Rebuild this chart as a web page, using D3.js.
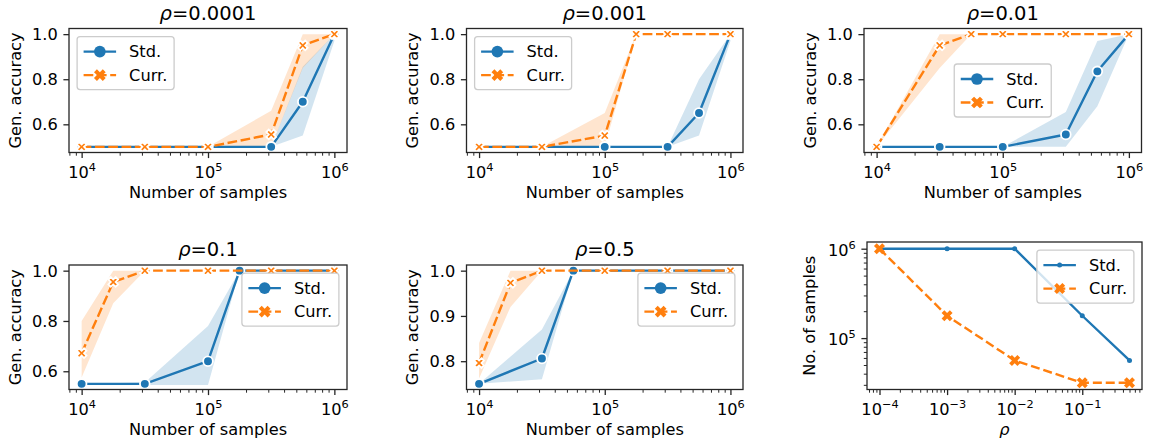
<!DOCTYPE html>
<html>
<head>
<meta charset="utf-8">
<script src="https://cdn.jsdelivr.net/npm/d3@7"></script>
<style>
  body { margin: 0; background: #fff; }
</style>
</head>
<body>
<script>
// ---- data ----
var rhoTitles = ["0.0001", "0.001", "0.01", "0.1", "0.5"];

var sampleStd = [
  [10000, 31623, 100000, 316228, 562341, 1000000],
  [10000, 31623, 100000, 316228, 562341, 1000000],
  [10000, 31623, 100000, 316228, 562341, 1000000],
  [10000, 31623, 100000, 177828, 316228, 1000000],
  [10000, 31623, 56234, 100000, 316228, 1000000]
];
var accStd = [
  [0.5, 0.5, 0.5, 0.5, 0.70, 1.0],
  [0.5, 0.5, 0.5, 0.5, 0.65, 1.0],
  [0.5, 0.5, 0.5, 0.555, 0.835, 1.0],
  [0.55, 0.55, 0.64, 1.0, 1.0, 1.0],
  [0.75, 0.806, 1.0, 1.0, 1.0, 1.0]
];
var loStd = [
  [0.5, 0.5, 0.5, 0.5, 0.55, 0.97],
  [0.5, 0.5, 0.5, 0.5, 0.55, 0.97],
  [0.5, 0.5, 0.5, 0.5, 0.68, 1.0],
  [0.55, 0.545, 0.545, 1.0, 1.0, 1.0],
  [0.75, 0.76, 1.0, 1.0, 1.0, 1.0]
];
var hiStd = [
  [0.5, 0.5, 0.5, 0.5, 0.855, 1.0],
  [0.5, 0.5, 0.5, 0.5, 0.80, 1.0],
  [0.5, 0.5, 0.5, 0.655, 0.97, 1.0],
  [0.55, 0.555, 0.78, 1.0, 1.0, 1.0],
  [0.75, 0.87, 1.0, 1.0, 1.0, 1.0]
];

var sampleCurr = [
  [10000, 31623, 100000, 316228, 562341, 1000000],
  [10000, 31623, 100000, 177828, 316228, 1000000],
  [10000, 31623, 56234, 100000, 316228, 1000000],
  [10000, 17783, 31623, 100000, 316228, 1000000],
  [10000, 17783, 31623, 100000, 316228, 1000000]
];
var accCurr = [
  [0.5, 0.5, 0.5, 0.555, 0.95, 1.0],
  [0.5, 0.5, 0.55, 1.0, 1.0, 1.0],
  [0.5, 0.95, 1.0, 1.0, 1.0, 1.0],
  [0.672, 0.955, 1.0, 1.0, 1.0, 1.0],
  [0.796, 0.973, 1.0, 1.0, 1.0, 1.0]
];
var loCurr = [
  [0.5, 0.5, 0.5, 0.5, 0.85, 1.0],
  [0.5, 0.5, 0.5, 1.0, 1.0, 1.0],
  [0.5, 0.85, 1.0, 1.0, 1.0, 1.0],
  [0.575, 0.87, 1.0, 1.0, 1.0, 1.0],
  [0.762, 0.92, 1.0, 1.0, 1.0, 1.0]
];
var hiCurr = [
  [0.5, 0.5, 0.5, 0.66, 1.0, 1.0],
  [0.5, 0.5, 0.65, 1.0, 1.0, 1.0],
  [0.5, 1.0, 1.0, 1.0, 1.0, 1.0],
  [0.80, 1.0, 1.0, 1.0, 1.0, 1.0],
  [0.84, 1.0, 1.0, 1.0, 1.0, 1.0]
];

var yTicksAcc = [
  [0.6, 0.8, 1.0],
  [0.6, 0.8, 1.0],
  [0.6, 0.8, 1.0],
  [0.6, 0.8, 1.0],
  [0.8, 0.9, 1.0]
];

// last panel: samples needed vs rho
var rhoValues = [0.0001, 0.001, 0.01, 0.1, 0.5];
var neededStd = [1000000, 1000000, 1000000, 177828, 56234];
var neededCurr = [1000000, 177828, 56234, 31623, 31623];

var seriesNames = ["Std.", "Curr."];

// ---- layout / style ----
var W = 1151, H = 446;
var FS = 16.2, TFS = 19.5;
var LW = 2.4;
var C_STD = "#1f77b4", C_CURR = "#ff7f0e";
var INK = "#262626";

var boxes = [
  {x0: 69, x1: 347, y0: 28.5, y1: 152.5},
  {x0: 466.5, x1: 743, y0: 28.5, y1: 152.5},
  {x0: 864, x1: 1141.5, y0: 28.5, y1: 152.5},
  {x0: 69, x1: 347, y0: 265, y1: 389.5},
  {x0: 466.5, x1: 743, y0: 265, y1: 389.5},
  {x0: 867, x1: 1142, y0: 242, y1: 389.5}
];
var legendLoc = ["upper left", "upper left", "center", "upper right", "upper right", "upper right"];

var svg = d3.select("body").append("svg")
  .attr("width", W)
  .attr("height", H)
  .style("font-family", "'DejaVu Sans', sans-serif");

function logExtent(vals) {
  var e = d3.extent(vals, function(v) { return Math.log10(v); });
  var p = (e[1] - e[0]) * 0.05;
  return [Math.pow(10, e[0] - p), Math.pow(10, e[1] + p)];
}

function linExtent(vals) {
  var e = d3.extent(vals);
  var p = (e[1] - e[0]) * 0.05;
  return [e[0] - p, e[1] + p];
}

function isPow10(v) {
  var l = Math.log10(v);
  return Math.abs(l - Math.round(l)) < 1e-9;
}

// "10" with a superscript exponent
function powLabel(sel) {
  sel.each(function(d) {
    var t = d3.select(this);
    var e = Math.round(Math.log10(d));
    t.text(null);
    t.append("tspan").text("10");
    t.append("tspan")
      .attr("font-size", FS * 0.7)
      .attr("dy", -6.7)
      .text(String(e).replace("-", "\u2212"));
  });
}

function styleAxis(ax) {
  ax.attr("font-size", FS)
    .attr("font-family", "'DejaVu Sans', sans-serif")
    .attr("color", INK);
  ax.select(".domain").remove();
}

function xLogAxis(g, x, b) {
  var all = x.ticks();
  var majors = all.filter(isPow10);
  var minors = all.filter(function(v) { return !isPow10(v); });

  var mn = g.append("g")
    .attr("transform", "translate(0," + b.y1 + ")")
    .call(d3.axisBottom(x).tickValues(minors).tickSize(3.2).tickFormat(function() { return ""; }));
  styleAxis(mn);
  mn.selectAll(".tick line").attr("stroke-width", 1);

  var mj = g.append("g")
    .attr("transform", "translate(0," + b.y1 + ")")
    .call(d3.axisBottom(x).tickValues(majors).tickSize(5.6).tickFormat(function() { return ""; }));
  styleAxis(mj);
  mj.selectAll(".tick line").attr("stroke-width", 1.3);
  mj.selectAll(".tick text")
    .attr("y", 25.2)
    .attr("dy", 0)
    .attr("fill", "#000")
    .call(powLabel);
}

function yLogAxis(g, y, b) {
  var all = y.ticks();
  var majors = all.filter(isPow10);
  var minors = all.filter(function(v) { return !isPow10(v); });

  var mn = g.append("g")
    .attr("transform", "translate(" + b.x0 + ",0)")
    .call(d3.axisLeft(y).tickValues(minors).tickSize(3.2).tickFormat(function() { return ""; }));
  styleAxis(mn);
  mn.selectAll(".tick line").attr("stroke-width", 1);

  var mj = g.append("g")
    .attr("transform", "translate(" + b.x0 + ",0)")
    .call(d3.axisLeft(y).tickValues(majors).tickSize(5.6).tickFormat(function() { return ""; }));
  styleAxis(mj);
  mj.selectAll(".tick line").attr("stroke-width", 1.3);
  mj.selectAll(".tick text")
    .attr("x", -11.3)
    .attr("dy", 6.5)
    .attr("fill", "#000")
    .call(powLabel);
}

function xMarkPath(s) {
  // matplotlib filled 'X' == a plus rotated 45deg, arm half-width 0.177*s
  var r = 0.177 * s;
  return d3.symbol(d3.symbolCross, 20 * r * r)();
}

function drawMarker(g, kind, cx, cy, color, size, edge) {
  if (kind === "o") {
    g.append("circle")
      .attr("cx", cx).attr("cy", cy).attr("r", size / 2)
      .attr("fill", color)
      .attr("stroke", edge ? "#fff" : "none")
      .attr("stroke-width", edge || 0);
  } else {
    g.append("path")
      .attr("d", xMarkPath(size))
      .attr("transform", "translate(" + cx + "," + cy + ") rotate(45)")
      .attr("fill", color)
      .attr("stroke", edge ? "#fff" : "none")
      .attr("stroke-width", edge || 0);
  }
}

function drawFrame(g, b) {
  g.append("rect")
    .attr("x", b.x0).attr("y", b.y0)
    .attr("width", b.x1 - b.x0).attr("height", b.y1 - b.y0)
    .attr("fill", "none")
    .attr("stroke", INK)
    .attr("stroke-width", 1.3);
}

function drawLegend(g, b, loc, items) {
  var w = 97, h = 53, pad = 8.1;
  var left, top;
  if (loc === "upper left") { left = b.x0 + pad; top = b.y0 + pad; }
  else if (loc === "upper right") { left = b.x1 - pad - w; top = b.y0 + pad; }
  else { left = (b.x0 + b.x1) / 2 - w / 2; top = (b.y0 + b.y1) / 2 - h / 2; }

  var lg = g.append("g");
  lg.append("rect")
    .attr("x", left).attr("y", top)
    .attr("width", w).attr("height", h)
    .attr("rx", 3).attr("ry", 3)
    .attr("fill", "#fff").attr("fill-opacity", 0.8)
    .attr("stroke", "#cccccc").attr("stroke-width", 1.3);

  items.forEach(function(it, k) {
    var cy = top + 15 + k * 23.5;
    lg.append("line")
      .attr("x1", left + 6.5).attr("x2", left + 39)
      .attr("y1", cy).attr("y2", cy)
      .attr("stroke", it.color)
      .attr("stroke-width", LW)
      .attr("stroke-dasharray", it.dash);
    drawMarker(lg, it.marker, left + 22.75, cy, it.color, it.size, 0);
    lg.append("text")
      .attr("x", left + 52).attr("y", cy)
      .attr("dy", "0.35em")
      .attr("font-size", FS)
      .text(it.label);
  });
}

// ---- accuracy panels ----
function drawAccPanel(i) {
  var b = boxes[i];
  var g = svg.append("g");

  var x = d3.scaleLog()
    .domain(logExtent(sampleStd[i].concat(sampleCurr[i])))
    .range([b.x0, b.x1]);
  var y = d3.scaleLinear()
    .domain(linExtent(accStd[i].concat(accCurr[i])))
    .range([b.y1, b.y0]);

  var clipId = "clip" + i;
  svg.append("clipPath").attr("id", clipId)
    .append("rect")
    .attr("x", b.x0).attr("y", b.y0)
    .attr("width", b.x1 - b.x0).attr("height", b.y1 - b.y0);

  var plot = g.append("g").attr("clip-path", "url(#" + clipId + ")");

  var series = [
    {n: sampleStd[i], acc: accStd[i], lo: loStd[i], hi: hiStd[i], color: C_STD, dash: null, marker: "o"},
    {n: sampleCurr[i], acc: accCurr[i], lo: loCurr[i], hi: hiCurr[i], color: C_CURR, dash: "9.7,3.6", marker: "x"}
  ];

  var area = d3.area()
    .x(function(d) { return x(d.n); })
    .y0(function(d) { return y(d.lo); })
    .y1(function(d) { return y(d.hi); });
  var line = d3.line()
    .x(function(d) { return x(d.n); })
    .y(function(d) { return y(d.acc); });

  var rows = series.map(function(s) {
    return s.n.map(function(n, k) {
      return {n: n, acc: s.acc[k], lo: s.lo[k], hi: s.hi[k]};
    });
  });

  // bands under every line
  series.forEach(function(s, k) {
    plot.append("path")
      .attr("d", area(rows[k]))
      .attr("fill", s.color)
      .attr("fill-opacity", 0.2);
  });

  series.forEach(function(s, k) {
    plot.append("path")
      .attr("d", line(rows[k]))
      .attr("fill", "none")
      .attr("stroke", s.color)
      .attr("stroke-width", LW)
      .attr("stroke-linejoin", "round")
      .attr("stroke-dasharray", s.dash);
    rows[k].forEach(function(d) {
      drawMarker(plot, s.marker, x(d.n), y(d.acc), s.color, 9.7, 1.8);
    });
  });

  xLogAxis(g, x, b);

  var ya = g.append("g")
    .attr("transform", "translate(" + b.x0 + ",0)")
    .call(d3.axisLeft(y).tickValues(yTicksAcc[i]).tickSize(5.6).tickPadding(5.7).tickFormat(d3.format(".1f")));
  styleAxis(ya);
  ya.selectAll(".tick line").attr("stroke-width", 1.3);
  ya.selectAll(".tick text").attr("fill", "#000").attr("dy", "0.35em");

  drawFrame(g, b);

  // title
  var t = g.append("text")
    .attr("x", (b.x0 + b.x1) / 2)
    .attr("y", b.y0 - 9)
    .attr("text-anchor", "middle")
    .attr("font-size", TFS);
  t.append("tspan").attr("font-style", "italic").text("\u03c1");
  t.append("tspan").text("=" + rhoTitles[i]);

  g.append("text")
    .attr("transform", "translate(" + (b.x0 - 48.5) + "," + ((b.y0 + b.y1) / 2) + ") rotate(-90)")
    .attr("text-anchor", "middle")
    .attr("font-size", FS)
    .text("Gen. accuracy");

  g.append("text")
    .attr("x", (b.x0 + b.x1) / 2)
    .attr("y", b.y1 + 45.5)
    .attr("text-anchor", "middle")
    .attr("font-size", FS)
    .text("Number of samples");

  drawLegend(g, b, legendLoc[i], [
    {label: seriesNames[0], color: C_STD, dash: null, marker: "o", size: 11.7},
    {label: seriesNames[1], color: C_CURR, dash: "9.7,3.6", marker: "x", size: 11.7}
  ]);
}

// ---- samples-needed panel ----
function drawNeededPanel() {
  var b = boxes[5];
  var g = svg.append("g");

  var x = d3.scaleLog().domain(logExtent(rhoValues)).range([b.x0, b.x1]);
  var y = d3.scaleLog().domain(logExtent(neededStd.concat(neededCurr))).range([b.y1, b.y0]);

  svg.append("clipPath").attr("id", "clip5")
    .append("rect")
    .attr("x", b.x0).attr("y", b.y0)
    .attr("width", b.x1 - b.x0).attr("height", b.y1 - b.y0);
  var plot = g.append("g").attr("clip-path", "url(#clip5)");

  var series = [
    {vals: neededStd, color: C_STD, dash: null, marker: "o", size: 5},
    {vals: neededCurr, color: C_CURR, dash: "9,3.9", marker: "x", size: 11}
  ];

  series.forEach(function(s) {
    var pts = rhoValues.map(function(r, k) { return [x(r), y(s.vals[k])]; });
    plot.append("path")
      .attr("d", d3.line()(pts))
      .attr("fill", "none")
      .attr("stroke", s.color)
      .attr("stroke-width", LW)
      .attr("stroke-linejoin", "round")
      .attr("stroke-dasharray", s.dash);
    pts.forEach(function(p) {
      drawMarker(plot, s.marker, p[0], p[1], s.color, s.size, 0);
    });
  });

  xLogAxis(g, x, b);
  yLogAxis(g, y, b);
  drawFrame(g, b);

  g.append("text")
    .attr("transform", "translate(" + (b.x0 - 52.5) + "," + ((b.y0 + b.y1) / 2) + ") rotate(-90)")
    .attr("text-anchor", "middle")
    .attr("font-size", FS)
    .text("No. of samples");

  g.append("text")
    .attr("x", (b.x0 + b.x1) / 2)
    .attr("y", b.y1 + 45)
    .attr("text-anchor", "middle")
    .attr("font-size", FS)
    .attr("font-style", "italic")
    .text("\u03c1");

  drawLegend(g, b, legendLoc[5], [
    {label: seriesNames[0], color: C_STD, dash: null, marker: "o", size: 5},
    {label: seriesNames[1], color: C_CURR, dash: "9,3.9", marker: "x", size: 11}
  ]);
}

for (var i = 0; i < 5; i++) drawAccPanel(i);
drawNeededPanel();
</script>
</body>
</html>
